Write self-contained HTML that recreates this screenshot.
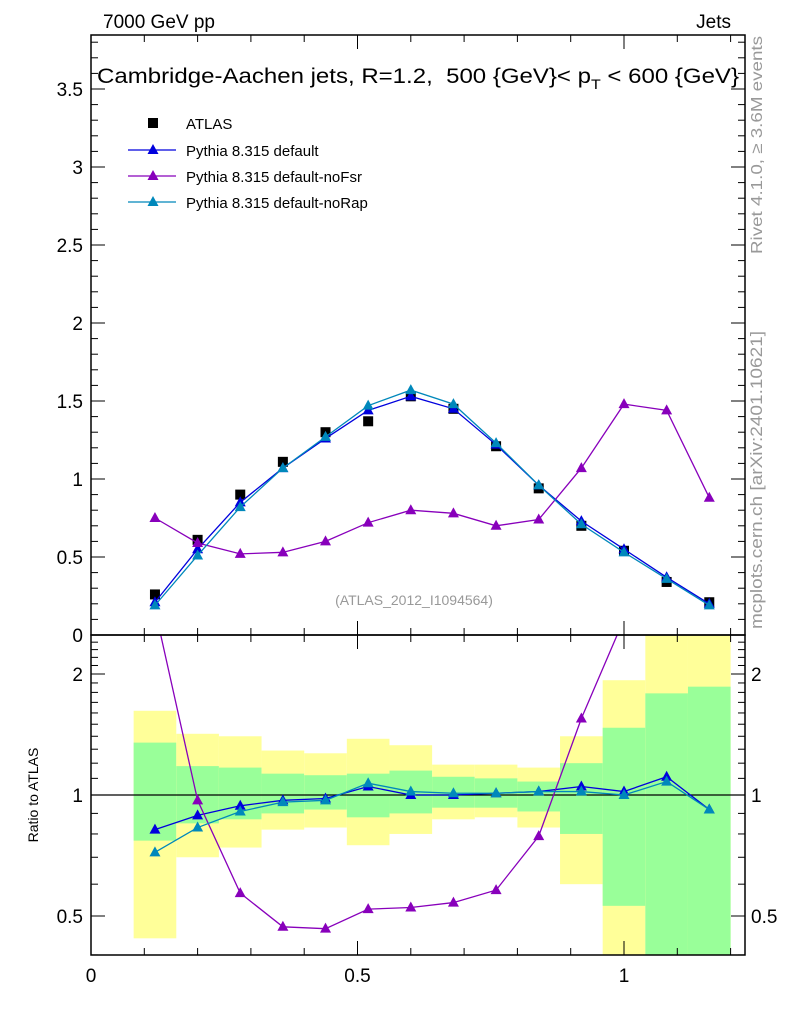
<!DOCTYPE html>
<html><head><meta charset="utf-8"><style>
body{margin:0;background:#fff;}
svg text{font-family:"Liberation Sans",sans-serif;}
</style></head><body>
<svg id="c" width="786" height="1024" xmlns="http://www.w3.org/2000/svg"></svg>
<script>
const xs=[0.12,0.2,0.28,0.36,0.44,0.52,0.6,0.68,0.76,0.84,0.92,1.0,1.08,1.16];
const binLo=[0.08,0.16,0.24,0.32,0.4,0.48,0.56,0.64,0.72,0.8,0.88,0.96,1.04,1.12];
const binHi=[0.16,0.24,0.32,0.4,0.48,0.56,0.64,0.72,0.8,0.88,0.96,1.04,1.12,1.2];
const atlas=[0.26,0.61,0.90,1.11,1.30,1.37,1.53,1.45,1.21,0.94,0.70,0.54,0.34,0.21];
const pDef=[0.21,0.55,0.85,1.07,1.26,1.44,1.53,1.45,1.22,0.96,0.73,0.55,0.37,0.20];
const pNoFsr=[0.75,0.59,0.52,0.53,0.60,0.72,0.80,0.78,0.70,0.74,1.07,1.48,1.44,0.88];
const pNoRap=[0.19,0.51,0.82,1.07,1.27,1.47,1.57,1.48,1.23,0.96,0.71,0.53,0.36,0.19];
const rDef=[0.82,0.89,0.94,0.97,0.98,1.05,1.0,1.0,1.01,1.02,1.05,1.02,1.11,0.92];
const rNoFsr=[2.9,0.97,0.57,0.47,0.465,0.52,0.525,0.54,0.58,0.79,1.55,2.74,4.2,4.2];
const rNoRap=[0.72,0.83,0.91,0.96,0.97,1.07,1.02,1.01,1.01,1.02,1.02,1.0,1.08,0.92];
const yelLo=[0.44,0.70,0.74,0.82,0.83,0.75,0.80,0.87,0.88,0.83,0.60,0.30,0.30,0.30];
const yelHi=[1.62,1.42,1.40,1.29,1.27,1.38,1.33,1.19,1.19,1.17,1.40,1.93,3.0,3.0];
const grnLo=[0.77,0.85,0.87,0.90,0.92,0.88,0.90,0.93,0.93,0.91,0.80,0.53,0.30,0.30];
const grnHi=[1.35,1.18,1.17,1.13,1.12,1.13,1.15,1.11,1.10,1.08,1.20,1.47,1.79,1.86];
const mainTicks=[0,0.5,1,1.5,2,2.5,3,3.5];
const mainTickLabels=["0","0.5","1","1.5","2","2.5","3","3.5"];
const xTicks=[0,0.5,1];
const xTickLabels=["0","0.5","1"];
const rTicks=[0.5,1,2];
const rTickLabels=["0.5","1","2"];

const S=document.getElementById('c');const NS='http://www.w3.org/2000/svg';
function mk(t,a,p){const e=document.createElementNS(NS,t);for(const k in a)e.setAttribute(k,a[k]);(p||S).appendChild(e);return e;}
const L=91,R=745,T=35,MB=635,RB=955;
const X=v=>L+v*533;
const Y=v=>MB-v*156;
const YR=v=>795-Math.log2(v)*121;
const defs=mk('defs',{});
const c1=mk('clipPath',{id:'cm'},defs);mk('rect',{x:L,y:T,width:R-L,height:MB-T},c1);
const c2=mk('clipPath',{id:'cr'},defs);mk('rect',{x:L,y:MB,width:R-L,height:RB-MB},c2);
const gm=mk('g',{'clip-path':'url(#cm)'});
const gr=mk('g',{'clip-path':'url(#cr)'});
for(let i=0;i<xs.length;i++){
 let r=mk('rect',{x:X(binLo[i]),y:YR(yelHi[i]),width:X(binHi[i])-X(binLo[i]),height:YR(yelLo[i])-YR(yelHi[i]),fill:'#ffff99'},gr);
 
 r=mk('rect',{x:X(binLo[i]),y:YR(grnHi[i]),width:X(binHi[i])-X(binLo[i]),height:YR(grnLo[i])-YR(grnHi[i]),fill:'#99ff99'},gr);
 
}
mk('line',{x1:L,x2:R,y1:YR(1),y2:YR(1),stroke:'#000','stroke-width':1.2},gr);
function tri(g,x,y,col){return mk('path',{d:`M${x},${y-6}L${x+5.5},${y+4}L${x-5.5},${y+4}Z`,fill:col},g);}
const series=[[pDef,rDef,'#0000dd','pythia-default'],[pNoFsr,rNoFsr,'#8800bb','pythia-nofsr'],[pNoRap,rNoRap,'#0088bb','pythia-norap']];
atlas.forEach((v,i)=>{const r=mk('rect',{x:X(xs[i])-5,y:Y(v)-5,width:10,height:10,fill:'#000'},gm);
});
series.forEach(([d,rr,col,n])=>{
 const pl=mk('polyline',{points:d.map((v,i)=>X(xs[i])+','+Y(v)).join(' '),fill:'none',stroke:col,'stroke-width':1.3},gm);
 
 d.forEach((v,i)=>{const t=tri(gm,X(xs[i]),Y(v),col);});
 const pr=mk('polyline',{points:rr.map((v,i)=>X(xs[i])+','+YR(v)).join(' '),fill:'none',stroke:col,'stroke-width':1.3},gr);
 
 rr.forEach((v,i)=>{const t=tri(gr,X(xs[i]),YR(v),col);});
});
[[T,MB],[MB,RB]].forEach(([a,b])=>mk('rect',{x:L,y:a,width:R-L,height:b-a,fill:'none',stroke:'#000','stroke-width':1.5}));
function txt(x,y,s,o){const e=mk('text',Object.assign({x:x,y:y,'font-size':19},o||{}));e.textContent=s;return e;}
mainTicks.forEach((v,i)=>{mk('line',{x1:L,x2:L+14,y1:Y(v),y2:Y(v),stroke:'#000'});mk('line',{x1:R,x2:R-14,y1:Y(v),y2:Y(v),stroke:'#000'});
 const t=txt(L-8,Y(v)+7,mainTickLabels[i],{'text-anchor':'end'});
 for(let k=1;k<5;k++){const m=v+k*0.1;if(Y(m)>T){mk('line',{x1:L,x2:L+7,y1:Y(m),y2:Y(m),stroke:'#000'});mk('line',{x1:R,x2:R-7,y1:Y(m),y2:Y(m),stroke:'#000'});}}
});
for(let v=0;v<=1.2001;v+=0.1){const big=Math.abs(v*2-Math.round(v*2))<1e-6;const h=big?14:7;
 [[T,1],[MB,-1],[MB,1],[RB,-1]].forEach(([y0,s])=>mk('line',{x1:X(v),x2:X(v),y1:y0,y2:y0+s*h,stroke:'#000'}));}
xTicks.forEach((v,i)=>{const t=txt(X(v),982,xTickLabels[i],{'text-anchor':'middle'});});
rTicks.forEach((v,i)=>{mk('line',{x1:L,x2:L+14,y1:YR(v),y2:YR(v),stroke:'#000'});mk('line',{x1:R,x2:R-14,y1:YR(v),y2:YR(v),stroke:'#000'});
 let t=txt(L-8,YR(v)+7,rTickLabels[i],{'text-anchor':'end'});
 t=txt(R+6,YR(v)+7,rTickLabels[i]);});
[0.4,0.6,0.7,0.8,0.9,1.1,1.2,1.3,1.4,1.5,1.6,1.7,1.8,1.9,2.1,2.2,2.3,2.4].forEach(v=>{mk('line',{x1:L,x2:L+7,y1:YR(v),y2:YR(v),stroke:'#000'});mk('line',{x1:R,x2:R-7,y1:YR(v),y2:YR(v),stroke:'#000'});});
let t=txt(103,28,'7000 GeV pp');
t=txt(731,28,'Jets',{'text-anchor':'end'});
t=mk('text',{x:97,y:83,'font-size':21,textLength:642,lengthAdjust:'spacingAndGlyphs'});t.innerHTML='Cambridge-Aachen jets, R=1.2,&#160; 500 {GeV}&lt; p<tspan font-size="14" dy="6">T</tspan><tspan dy="-6"> &lt; 600 {GeV}</tspan>';

t=txt(414,605,'(ATLAS_2012_I1094564)',{'text-anchor':'middle','font-size':14,fill:'#999'});
t=txt(38,795,'Ratio to ATLAS',{'text-anchor':'middle','font-size':14,transform:'rotate(-90 38 795)'});
t=txt(762,145,'Rivet 4.1.0, \u2265 3.6M events',{'text-anchor':'middle','font-size':16,fill:'#999',transform:'rotate(-90 762 145)',textLength:218,lengthAdjust:'spacingAndGlyphs'});
t=txt(762,480,'mcplots.cern.ch [arXiv:2401.10621]',{'text-anchor':'middle','font-size':17,fill:'#999',transform:'rotate(-90 762 480)',textLength:298,lengthAdjust:'spacingAndGlyphs'});
const lg=mk('g',{});
mk('rect',{x:148,y:118,width:10,height:10,fill:'#000'},lg);
t=txt(186,129,'ATLAS',{'font-size':15});lg.appendChild(t);
const ln=[['Pythia 8.315 default','#0000dd'],['Pythia 8.315 default-noFsr','#8800bb'],['Pythia 8.315 default-noRap','#0088bb']];
ln.forEach(([s,c],i)=>{const y=150+i*26;mk('line',{x1:128,x2:176,y1:y,y2:y,stroke:c,'stroke-width':1.3},lg);tri(lg,153,y,c);
 const e=txt(186,y+6,s,{'font-size':15});lg.appendChild(e);});
</script>
</body></html>
